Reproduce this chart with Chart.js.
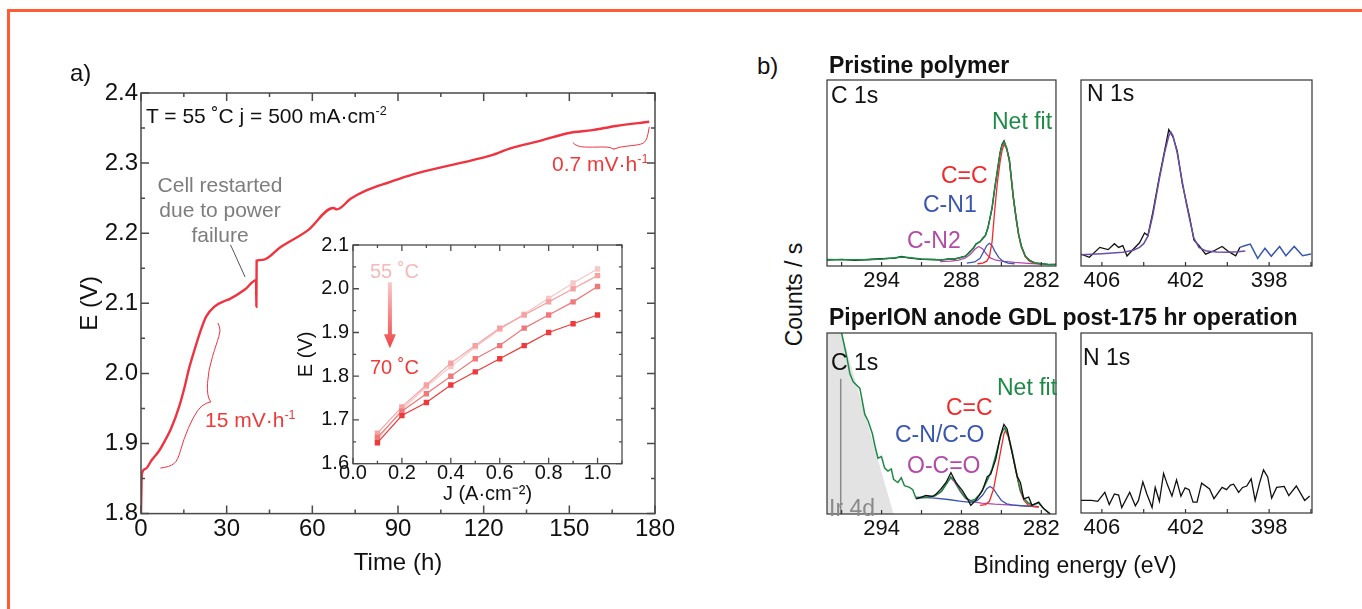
<!DOCTYPE html>
<html>
<head>
<meta charset="utf-8">
<title>Durability test and XPS</title>
<script src="https://cdn.jsdelivr.net/npm/chart.js@4.4.1/dist/chart.umd.min.js"></script>
<style>
  body { margin: 0; width: 1362px; height: 609px; overflow: hidden; background: #fff; position: relative;
         font-family: "Liberation Sans", Arial, sans-serif; color: #111; }
  .edge { position: absolute; left: 7px; top: 9px; width: 1400px; height: 700px;
          border-left: 3px solid #ff5c33; border-top: 3px solid #ff5c33; }
  canvas { position: absolute; }
  .t { position: absolute; white-space: nowrap; line-height: 1; }
  sup { font-size: 60%; vertical-align: 0.6em; line-height: 0; }
</style>
</head>
<body>
<div class="edge"></div>

<canvas id="durability" width="630" height="518" style="left:50px;top:60px"></canvas>
<canvas id="polar" width="345" height="281" style="left:290px;top:225px"></canvas>
<canvas id="c1sPristine" width="240" height="231" style="left:822px;top:75px"></canvas>
<canvas id="n1sPristine" width="241" height="231" style="left:1076px;top:75px"></canvas>
<canvas id="c1sPost" width="240" height="226" style="left:822px;top:328px"></canvas>
<canvas id="n1sPost" width="241" height="225" style="left:1076px;top:328px"></canvas>

<!-- panel a text -->
<div class="t" style="left:70px;top:61px;font-size:24px">a)</div>
<div class="t" style="left:146px;top:104.7px;font-size:21px">T = 55 ˚C j = 500 mA·cm<sup>-2</sup></div>
<div class="t" style="left:140px;top:171.7px;width:160px;text-align:center;font-size:21px;line-height:25px;color:#7d7d7d">Cell restarted<br>due to power<br>failure</div>
<div class="t" style="left:205px;top:408.7px;font-size:21px;color:#ef3a3a">15 mV·h<sup>-1</sup></div>
<div class="t" style="left:552px;top:152.7px;font-size:21px;color:#ef3a3a">0.7 mV·h<sup>-1</sup></div>
<div class="t" style="left:370px;top:260.5px;font-size:20px;color:#f5b9b9">55 ˚C</div>
<div class="t" style="left:370px;top:357px;font-size:20px;color:#ef3a3a">70 ˚C</div>

<!-- panel b text -->
<div class="t" style="left:757px;top:54px;font-size:24px">b)</div>
<div class="t" style="left:829px;top:53.7px;font-size:23px;font-weight:bold">Pristine polymer</div>
<div class="t" style="left:829px;top:305.7px;font-size:23px;font-weight:bold">PiperION anode GDL post-175 hr operation</div>
<div class="t" style="left:831px;top:83.7px;font-size:23px">C 1s</div>
<div class="t" style="left:992px;top:109.7px;font-size:23px;color:#1d8a45">Net fit</div>
<div class="t" style="left:941px;top:163.7px;font-size:23px;color:#f02a2a">C=C</div>
<div class="t" style="left:923px;top:192.7px;font-size:23px;color:#3a56b0">C-N1</div>
<div class="t" style="left:907px;top:228.7px;font-size:23px;color:#b44aa8">C-N2</div>
<div class="t" style="left:1087px;top:81.7px;font-size:23px">N 1s</div>
<div class="t" style="left:831px;top:350.7px;font-size:23px">C 1s</div>
<div class="t" style="left:829px;top:496.7px;font-size:23px;color:#8a8a8a">Ir 4d</div>
<div class="t" style="left:997px;top:375.7px;font-size:23px;color:#1d8a45">Net fit</div>
<div class="t" style="left:946px;top:395.7px;font-size:23px;color:#f02a2a">C=C</div>
<div class="t" style="left:895px;top:422.7px;font-size:23px;color:#3a56b0">C-N/C-O</div>
<div class="t" style="left:907px;top:453.7px;font-size:23px;color:#b44aa8">O-C=O</div>
<div class="t" style="left:1083px;top:345.7px;font-size:23px">N 1s</div>
<div class="t" style="left:694px;top:282.5px;width:200px;text-align:center;font-size:23px;transform:rotate(-90deg)">Counts / s</div>
<div class="t" style="left:925px;top:553.7px;width:300px;text-align:center;font-size:23px">Binding energy (eV)</div>

<script>
// ---- panel a: cell voltage during the 500 mA/cm2 hold ----
const timeH = [0, 0.3, 1.6, 3.7, 6.4, 8.5, 10.5, 13.3, 15.3, 16.7, 18.7, 20.8, 22.8, 25.6, 29.7,
  31, 36.5, 40.3, 40.4, 40.5, 42.6, 48.8, 58.4, 67.3, 68.6, 73.4, 78.9, 87.1, 95.3, 106.2,
  115.8, 122.6, 129.4, 139, 149.9, 158.1, 166.3, 178];
const voltE = [1.80, 1.857, 1.864, 1.876, 1.89, 1.905, 1.921, 1.952, 1.981, 2.005, 2.033, 2.06, 2.081, 2.095, 2.104,
  2.106, 2.120, 2.133, 2.095, 2.161, 2.162, 2.180, 2.204, 2.236, 2.234, 2.249, 2.261, 2.273, 2.284, 2.295,
  2.304, 2.311, 2.321, 2.331, 2.343, 2.347, 2.353, 2.359];

// inset: polarisation curves 55 -> 70 C
const currentJ = [0.1, 0.2, 0.3, 0.4, 0.5, 0.6, 0.7, 0.8, 0.9, 1.0];
const pol55 = [1.655, 1.724, 1.776, 1.822, 1.867, 1.907, 1.942, 1.978, 2.013, 2.045];
const pol60 = [1.67, 1.73, 1.78, 1.83, 1.87, 1.91, 1.94, 1.97, 2.0, 2.03];
const pol65 = [1.66, 1.72, 1.76, 1.80, 1.84, 1.87, 1.91, 1.94, 1.97, 2.005];
const pol70 = [1.648, 1.71, 1.74, 1.78, 1.81, 1.84, 1.87, 1.90, 1.92, 1.94];

// annotation shapes, in (h, V)
const brace15Low = [[6.9, 1.865], [10.15, 1.8666], [12.95, 1.876], [14.8, 1.905], [18.3, 1.938], [21.25, 1.955], [24.4, 1.9594]];
const brace15High = [[24.4, 1.9594], [23.0, 1.9666], [23.55, 2.0047], [26.5, 2.043], [28.0, 2.0619], [26.95, 2.0714]];
const brace07Left = [[151.3, 2.329], [152.4, 2.3234], [158.1, 2.3225], [163.6, 2.3234], [165.6, 2.320]];
const brace07Right = [[165.6, 2.320], [167.4, 2.3234], [174.5, 2.3258], [177.0, 2.3306], [178.0, 2.3512]];
const restartPointer = [[31.4, 2.183], [36.4, 2.138]];

// ---- panel b: XPS, counts in % of panel height ----
const pcFitE = [298.1, 297, 296, 295, 294, 293, 292.5, 292, 291, 290, 289.5, 289, 288.5, 288, 287.7, 287.4, 287.1,
  286.9, 286.6, 286.4, 286.2, 286.0, 285.7, 285.5, 285.3, 285.1, 284.95, 284.8, 284.6, 284.4, 284.1, 283.9,
  283.7, 283.5, 283.2, 282.9, 282.5, 282.0, 281.5, 280.9];
const pcFit = [3.5, 3.4, 3.3, 3.4, 3.7, 4.4, 4.9, 4.6, 3.8, 3.3, 3.4, 3.6, 3.9, 4.6, 5.4, 7.2, 9.8,
  11.7, 13.2, 14.6, 16.6, 20.5, 31.5, 41.5, 51.5, 60.5, 65, 66.7, 63.5, 56.8, 37, 26,
  17, 10.5, 5.4, 3, 1.8, 1.2, 0.9, 0.8];
const pcData = [3.2, 3.6, 3.1, 3.5, 3.9, 4.2, 5.1, 4.4, 3.6, 3.5, 3.2, 3.8, 3.7, 4.8, 5.2, 7.5, 9.5,
  12, 13, 14.9, 16.3, 21, 31, 42, 51, 61, 65.5, 67.3, 63, 57.2, 36.5, 26.4,
  16.6, 10.8, 5.1, 3.2, 1.6, 1.3, 0.7, 0.9];
const pcCCE = [286.8, 286.4, 286.1, 285.9, 285.7, 285.5, 285.3, 285.1, 284.95, 284.8, 284.6, 284.4, 284.1, 283.9,
  283.7, 283.5, 283.2, 282.9, 282.5, 282.0];
const pcCC = [1.2, 1.6, 2.6, 5, 13, 30, 45, 56, 62, 65.5, 63, 56.3, 36.5, 25.5, 16.5, 10, 5, 2.6, 1.5, 1.0];
const pcCN1E = [287.6, 287.0, 286.6, 286.3, 286.1, 285.9, 285.7, 285.5, 285.2, 284.9, 284.5, 284.0];
const pcCN1 = [1.6, 2.2, 4.2, 8.2, 11, 12.2, 11, 8, 4.6, 2.6, 1.6, 1.1];
const pcCN2E = [289.6, 288.8, 288.2, 287.7, 287.3, 287.0, 286.7, 286.4, 286.1, 285.8, 285.4, 284.8, 284.0, 283.0, 282.0];
const pcCN2 = [2.4, 2.6, 3.2, 4.3, 6.4, 9, 10.5, 9.2, 6.2, 4.2, 3.1, 2.5, 1.9, 1.4, 1.0];

const pnDataE = [407.0, 406.6, 406.1, 405.7, 405.4, 405.2, 405.0, 404.8, 404.5, 404.2, 403.96, 403.8, 403.57, 403.25,
  403.0, 402.8, 402.6, 402.4, 402.15, 401.8, 401.6, 401.36, 401.04, 400.64, 400.25, 399.93, 399.6, 399.4];
const pnData = [6.4, 4.7, 10, 8.8, 12, 10, 11, 5.4, 9, 12.5, 17.8, 16.4, 28.5, 48,
  62, 73.3, 69.4, 62, 44, 26, 14, 11, 6.4, 8.2, 10.5, 7.7, 5.5, 10];
const pnFitE = [407.0, 406.0, 405.0, 404.5, 404.2, 404.0, 403.8, 403.57, 403.25, 403.0, 402.8, 402.7, 402.6, 402.4,
  402.15, 401.95, 401.8, 401.6, 401.36, 401.0, 400.5, 400.0, 399.5, 399.14];
const pnFit = [6, 6.6, 7.4, 8.5, 10, 12, 16, 27, 47, 61, 70, 72, 70, 61,
  45, 33, 25, 15, 10, 8, 7.5, 7.4, 7.6, 8];
const pnTailE = [399.4, 399.14, 398.9, 398.55, 398.2, 397.9, 397.5, 397.2, 396.8, 396.4, 396.0];
const pnTail = [10, 11, 11.8, 4.1, 9.5, 5.2, 10.5, 5.5, 10.5, 5.5, 6.4];

const qcIrE = [298.2, 297.0, 293.1];
const qcIr = [100, 100, 0];
const qcMarkE = [297.07, 297.07];
const qcMark = [0, 74.7];
const qcTailE = [297.15, 297.0, 296.63, 296.38, 296.13, 295.63, 295.26, 295.01, 294.69, 294.51, 294.27, 294.01,
  293.77, 293.52, 293.27, 293.1, 292.78, 292.52, 292.28, 291.9, 291.66, 291.4];
const qcTail = [106, 100, 87.3, 77.4, 73, 69.4, 55, 51.4, 44.3, 38, 30.8, 31.7,
  25.4, 23.7, 24.9, 19.2, 17.4, 20, 15.6, 14.7, 13.4, 8.4];
const qcDataE = [291.4, 290.66, 290.16, 289.91, 289.54, 289.16, 288.79, 288.42, 287.93, 287.55, 287.3, 286.93,
  286.43, 286.06, 285.8, 285.43, 285.06, 284.81, 284.57, 284.19, 283.82, 283.57, 283.32, 282.95, 282.7, 282.2,
  281.83, 281.33];
const qcData = [8.4, 10.2, 9.7, 11, 13.8, 17.4, 22.8, 17.4, 12.9, 8.4, 4.8, 7.5,
  12.9, 20.6, 22, 30, 43.5, 49.5, 47, 33.6, 21, 17.4, 8.4, 9.3, 4.8, 6.6,
  3, 0];
const qcFitE = [291.4, 290.5, 290.0, 289.5, 289.1, 288.8, 288.5, 288.1, 287.7, 287.3, 287.0, 286.6, 286.3, 286.0,
  285.7, 285.4, 285.1, 284.9, 284.75, 284.5, 284.2, 283.9, 283.6, 283.3, 283.0, 282.7, 282.2, 281.83, 281.33];
const qcFit = [8.6, 9.4, 10, 12.5, 17, 20.5, 18.5, 13, 9, 7.4, 8, 11, 15, 19.5,
  25, 33, 42, 46, 47.5, 44, 35, 24, 14, 8.5, 6.2, 5, 6, 3, 0];
const qcCCE = [286.6, 286.2, 285.9, 285.6, 285.3, 285.0, 284.8, 284.7, 284.5, 284.2, 283.9, 283.6, 283.3, 283.0, 282.6, 282.2];
const qcCC = [4.8, 5.2, 7, 13.5, 25, 37, 44.5, 46, 43, 34, 23, 13, 7.5, 5, 4.2, 4];
const qcCNE = [291.4, 290.0, 289.0, 288.0, 287.3, 286.8, 286.4, 286.1, 285.85, 285.6, 285.3, 285.0, 284.6, 284.2, 283.5, 282.2];
const qcCN = [9.3, 8.8, 8, 7, 6.4, 7.5, 10.5, 14, 15.2, 14, 10.5, 7.5, 5.6, 5, 4.6, 4];
const qcOCOE = [291.4, 290.5, 290.0, 289.5, 289.1, 288.8, 288.5, 288.1, 287.7, 287.3, 286.5, 285.5, 284.5, 283.5, 282.2];
const qcOCO = [9, 9.2, 10, 12.5, 17, 20, 17.5, 12.5, 8.5, 7, 6, 5.4, 5, 4.5, 4];

const qnE = [407.04, 406.73, 406.5, 406.2, 405.86, 405.65, 405.4, 405.2, 405.05, 404.67, 404.4, 404.25, 404.04,
  403.85, 403.6, 403.45, 403.25, 403.05, 402.86, 402.65, 402.43, 402.22, 402.02, 401.83, 401.64, 401.45, 401.23,
  400.85, 400.64, 400.25, 400.04, 399.85, 399.7, 399.46, 399.27, 399.07, 398.86, 398.67, 398.46, 398.27, 398.07,
  397.88, 397.64, 397.28, 397.06, 396.7, 396.3, 396.06];
const qnData = [7, 7, 7, 6.5, 11.5, 4.7, 10.6, 10, 3, 11.5, 4, 7, 17.3,
  10.6, 3, 14.2, 6.5, 22, 15.5, 9.4, 18.4, 9.4, 14, 13, 6, 6, 16.6,
  13.4, 8, 14.2, 13, 15.5, 16, 11.5, 14.2, 15, 19, 7, 16.6, 24, 20,
  8.3, 14.2, 14.8, 9.7, 15, 7, 9.4];

const RED = '#ef3340', GREEN = '#1d8a45', BLUE = '#3a56b0', MAGENTA = '#b44aa8';

Chart.defaults.font.family = '"Liberation Sans", Arial, sans-serif';
Chart.defaults.color = '#111';
Chart.defaults.plugins.legend.display = false;
Chart.defaults.plugins.tooltip.enabled = false;
Chart.defaults.animation = false;

// frame round the plot area + ticks pointing inwards
const frameAndTicks = {
  id: 'frameAndTicks',
  beforeDatasetsDraw(chart, args, o) {
    if (!o.fill) return;
    const a = chart.chartArea;
    chart.ctx.fillStyle = o.fill;
    chart.ctx.fillRect(a.left, a.top, a.right - a.left, a.bottom - a.top);
  },
  afterDatasetsDraw(chart, args, o) {
    if (!o.axes) return;
    const {ctx, chartArea: a} = chart;
    ctx.save();
    ctx.strokeStyle = o.color;
    ctx.lineWidth = o.width;
    ctx.strokeRect(a.left, a.top, a.right - a.left, a.bottom - a.top);
    ctx.beginPath();
    for (const id of Object.keys(o.axes)) {
      const c = o.axes[id], s = chart.scales[id];
      const lo = Math.min(s.min, s.max), hi = Math.max(s.min, s.max);
      for (let k = Math.ceil(lo / c.minor - 1e-6); k * c.minor <= hi + 1e-9; k++) {
        const v = k * c.minor;
        const r = v / c.major;
        const len = Math.abs(r - Math.round(r)) < 1e-6 ? o.len : o.minorLen;
        const p = s.getPixelForValue(v);
        c.sides.forEach(side => {
          if (side === 'bottom') { ctx.moveTo(p, a.bottom); ctx.lineTo(p, a.bottom - len); }
          if (side === 'top') { ctx.moveTo(p, a.top); ctx.lineTo(p, a.top + len); }
          if (side === 'left') { ctx.moveTo(a.left, p); ctx.lineTo(a.left + len, p); }
          if (side === 'right') { ctx.moveTo(a.right, p); ctx.lineTo(a.right - len, p); }
        });
      }
    }
    ctx.stroke();
    ctx.restore();
  }
};

// braces, pointer line and the temperature arrow, placed in data units
const sketchMarks = {
  id: 'sketchMarks',
  afterDatasetsDraw(chart, args, o) {
    const {ctx, scales: {x, y}} = chart;
    const px = ([u, v]) => [x.getPixelForValue(u), y.getPixelForValue(v)];
    ctx.save();
    ctx.lineJoin = 'round';
    ctx.lineCap = 'round';
    (o.paths || []).forEach(p => {
      const pts = p.pts.map(px);
      ctx.strokeStyle = p.color;
      ctx.lineWidth = p.width;
      ctx.beginPath();
      ctx.moveTo(pts[0][0], pts[0][1]);
      for (let i = 1; i < pts.length - 1; i++) {
        ctx.quadraticCurveTo(pts[i][0], pts[i][1], (pts[i][0] + pts[i + 1][0]) / 2, (pts[i][1] + pts[i + 1][1]) / 2);
      }
      const last = pts[pts.length - 1];
      ctx.lineTo(last[0], last[1]);
      ctx.stroke();
    });
    if (o.arrow) {
      const [x0, y0] = px(o.arrow.from), [x1, y1] = px(o.arrow.to);
      const g = ctx.createLinearGradient(x0, y0, x1, y1);
      g.addColorStop(0, o.arrow.c0);
      g.addColorStop(1, o.arrow.c1);
      ctx.fillStyle = g;
      const hw = o.arrow.shaft / 2, hh = o.arrow.head / 2, hl = o.arrow.headLen;
      ctx.beginPath();
      ctx.moveTo(x0 - hw, y0); ctx.lineTo(x0 + hw, y0); ctx.lineTo(x1 + hw, y1 - hl);
      ctx.lineTo(x1 + hh, y1 - hl); ctx.lineTo(x1, y1); ctx.lineTo(x1 - hh, y1 - hl);
      ctx.lineTo(x1 - hw, y1 - hl); ctx.closePath();
      ctx.fill();
    }
    ctx.restore();
  }
};
Chart.register(frameAndTicks, sketchMarks);

function pts(xs, ys) {
  return xs.map((v, i) => ({x: v, y: ys[i]}));
}

function series(xs, ys, color, extra) {
  return Object.assign({data: pts(xs, ys), borderColor: color, borderWidth: 1.3, pointRadius: 0, fill: false, tension: 0}, extra || {});
}

// ---- main durability chart ----
new Chart(document.getElementById('durability'), {
  type: 'line',
  data: {
    datasets: [series(timeH, voltE, RED, {borderWidth: 2.4, cubicInterpolationMode: 'monotone'})]
  },
  options: {
    responsive: false,
    layout: {padding: {left: 25.6, top: 33, right: 25, bottom: 0}},
    scales: {
      x: {
        type: 'linear', min: 0, max: 180,
        afterFit: s => { s.height = 64.4; },
        grid: {display: false, drawTicks: false}, border: {display: false},
        ticks: {stepSize: 30, padding: 1, font: {size: 24}, maxRotation: 0, autoSkip: false},
        title: {display: true, text: 'Time (h)', padding: 0, font: {size: 24, lineHeight: 1.2}}
      },
      y: {
        min: 1.8, max: 2.4,
        afterFit: s => { s.width = 65.4; },
        grid: {display: false, drawTicks: false}, border: {display: false},
        ticks: {stepSize: 0.1, padding: 3, font: {size: 24}, callback: v => v.toFixed(1)},
        title: {display: true, text: 'E (V)', padding: 0, font: {size: 24, lineHeight: 1.2}}
      }
    },
    plugins: {
      frameAndTicks: {
        color: '#4a4a4a', width: 1.5, len: 8, minorLen: 4,
        axes: {x: {major: 30, minor: 15, sides: ['bottom', 'top']}, y: {major: 0.1, minor: 0.05, sides: ['left', 'right']}}
      },
      sketchMarks: {
        paths: [
          {pts: brace15Low, color: RED, width: 1},
          {pts: brace15High, color: RED, width: 1},
          {pts: brace07Left, color: RED, width: 1},
          {pts: brace07Right, color: RED, width: 1},
          {pts: restartPointer, color: '#555', width: 1}
        ]
      }
    }
  }
});

// ---- inset polarisation curves ----
const polSets = [
  [pol70, '#ee3a3a'], [pol65, '#f07878'], [pol60, '#f4a2a2'], [pol55, '#f7c6c6']
].map(([ys, c]) => series(currentJ, ys, c, {
  borderWidth: 1.2, pointRadius: 3.8, pointStyle: 'rect', pointBackgroundColor: c, pointBorderWidth: 0
}));

new Chart(document.getElementById('polar'), {
  type: 'line',
  data: {datasets: polSets},
  options: {
    responsive: false,
    layout: {padding: {left: 4.7, top: 20, right: 13, bottom: 0}},
    scales: {
      x: {
        type: 'linear', min: 0, max: 1.1,
        afterFit: s => { s.height = 42.3; },
        grid: {display: false, drawTicks: false}, border: {display: false},
        ticks: {stepSize: 0.2, includeBounds: false, padding: -2, font: {size: 20}, maxRotation: 0, autoSkip: false,
                callback: v => v.toFixed(1)},
        title: {display: true, text: 'J (A·cm⁻²)', padding: 0, font: {size: 20, lineHeight: 1.2}}
      },
      y: {
        min: 1.6, max: 2.1,
        afterFit: s => { s.width = 58.3; },
        grid: {display: false, drawTicks: false}, border: {display: false},
        ticks: {stepSize: 0.1, padding: 4, font: {size: 20}, callback: v => v.toFixed(1)},
        title: {display: true, text: 'E (V)', padding: 0, font: {size: 20, lineHeight: 1.2}}
      }
    },
    plugins: {
      frameAndTicks: {
        fill: '#fff', color: '#4a4a4a', width: 1.3, len: 6, minorLen: 3,
        axes: {x: {major: 0.2, minor: 0.1, sides: ['bottom', 'top']}, y: {major: 0.1, minor: 0.05, sides: ['left', 'right']}}
      },
      sketchMarks: {
        arrow: {from: [0.151, 2.015], to: [0.151, 1.864], c0: '#f8caca', c1: '#ef4545', shaft: 4, head: 12, headLen: 14}
      }
    }
  }
});

// ---- XPS panels ----
function xpsChart(id, range, tickStep, labelBase, labelStep, sets) {
  return new Chart(document.getElementById(id), {
    type: 'line',
    data: {datasets: sets},
    options: {
      responsive: false,
      layout: {padding: {left: 5, right: 5, top: 5, bottom: 0}},
      scales: {
        x: {
          type: 'linear', reverse: true, min: range[0], max: range[1],
          afterFit: s => { s.height = 40; },
          grid: {display: false, drawTicks: false}, border: {display: false},
          ticks: {stepSize: tickStep, includeBounds: false, autoSkip: false, maxRotation: 0, padding: 2,
                  font: {size: 22},
                  callback: v => (Math.round(v) - labelBase) % labelStep === 0 ? String(Math.round(v)) : ''}
        },
        y: {display: false, min: 0, max: 100}
      },
      plugins: {
        frameAndTicks: {
          color: '#333', width: 1.2, len: 4, minorLen: 4,
          axes: {x: {major: tickStep, minor: tickStep, sides: ['bottom']}}
        }
      }
    }
  });
}

// first dataset is drawn on top
xpsChart('c1sPristine', [280.9, 298.1], 3, 282, 6, [
  series(pcFitE, pcFit, GREEN, {borderWidth: 1.5}),
  series(pcCCE, pcCC, '#f02a2a'),
  series(pcCN1E, pcCN1, BLUE),
  series(pcCN2E, pcCN2, MAGENTA),
  series(pcFitE, pcData, '#111')
]);

xpsChart('n1sPristine', [395.95, 407.0], 2, 398, 4, [
  series(pnFitE, pnFit, '#6b4fa6', {borderWidth: 1.5}),
  series(pnTailE, pnTail, BLUE, {borderWidth: 1.5}),
  series(pnDataE, pnData, '#111')
]);

xpsChart('c1sPost', [280.9, 298.1], 3, 282, 6, [
  series(qcDataE, qcData, '#111'),
  series(qcFitE, qcFit, GREEN, {borderWidth: 1.5}),
  series(qcTailE, qcTail, GREEN, {borderWidth: 1.5}),
  series(qcCCE, qcCC, '#f02a2a'),
  series(qcCNE, qcCN, BLUE),
  series(qcOCOE, qcOCO, MAGENTA),
  series(qcMarkE, qcMark, '#8a8a8a', {borderWidth: 1.5}),
  series(qcIrE, qcIr, 'rgba(0,0,0,0)', {borderWidth: 0, backgroundColor: '#e3e3e3', fill: 'origin'})
]);

xpsChart('n1sPost', [395.95, 407.0], 2, 398, 4, [
  series(qnE, qnData, '#111')
]);
</script>
</body>
</html>
